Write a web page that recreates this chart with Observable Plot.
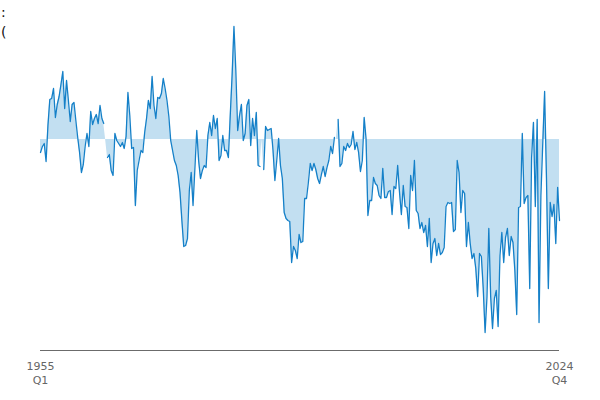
<!DOCTYPE html>
<html>
<head>
<meta charset="utf-8">
<script src="https://cdn.jsdelivr.net/npm/d3@7"></script>
<script src="https://cdn.jsdelivr.net/npm/@observablehq/plot@0.6"></script>
<style>
  body { margin: 0; background: #fff; font-family: "DejaVu Sans", sans-serif; }
  #wrap { position: relative; width: 600px; height: 400px; }
  #clip { position: absolute; left: 1px; top: 2px; font-size: 14px; line-height: 20px; color: #111; }
</style>
</head>
<body>
<div id="wrap">
  <div id="clip">:<br>(</div>
</div>
<script>
// Quarterly series, 1955 Q1 .. 2024 Q4 (null = missing quarter)
const startYear = 1955;
const values = [
  -13, -7, -4, -22, 14, 40, 41, 51, 22, 35,
  43, 55, 68, 31, 59, 39, 18, 35, 37, 19,
  2, -13, -33, -25, -7, 6, -7, 28, 15, 21,
  25, 16, 34, 21, 16, null, -18, -15, -31, -36,
  6, -1, -4, -7, -3, -9, 3, 47, 24, -9,
  -8, -66, -31, -21, -11, -13, 7, 21, 39, 31,
  63, 34, 21, 42, 41, 46, 61, 51, 39, 23,
  -1, -11, -21, -26, -36, -53, -81, -107, -106, -99,
  -51, -33, -66, -29, 9, -21, -39, -31, -26, -28,
  4, 17, 4, 24, 11, 21, -21, -16, 4, -11,
  -11, -18, 24, 64, 113, 69, 9, 24, 35, -1,
  6, 34, 40, -6, 21, 4, 27, -26, -27, null,
  -30, 13, 9, 10, 11, -11, -41, -21, 1, -26,
  -39, -73, -79, -81, -82, -123, -107, -111, -119, -95,
  -103, -102, -59, -59, -43, -24, -31, -24, -30, -39,
  -44, -35, -27, -37, -28, -21, -7, -14, 2, null,
  20, -27, -24, -7, -11, -4, -8, -5, 8, -10,
  -3, -13, -32, -21, 22, 1, -76, -61, -61, -38,
  -44, -46, -56, -59, -29, -58, -58, -52, -51, -75,
  -47, -49, -26, -53, -75, -46, -67, -68, -89, -36,
  -51, -21, -71, -74, -89, -83, -93, -86, -107, -79,
  -123, -104, -99, -116, -104, -115, -113, -108, -67, -63,
  -64, -63, -92, -90, -21, -33, -73, -51, -54, -107,
  -83, -104, -119, -114, -129, -157, -114, -117, -149, -193,
  -158, -89, -157, -189, -159, -151, -187, -116, -93, -123,
  -98, -89, -116, -97, -103, -131, -175, -68, -67, 6,
  -64, -58, -56, -149, -18, 17, -67, 20, -183, -56,
  -4, 48, -39, -149, -63, -77, -65, -104, -48, -81
];
const tickIndex = [0, values.length - 1];
const quarterNames = ["Q1", "Q2", "Q3", "Q4"];
const yDomain = [-211, 119];

const data = values.map((v, i) => ({
  i,
  v,
  label: `${startYear + Math.floor(i / 4)}\n${quarterNames[i % 4]}`
}));

const chart = Plot.plot({
  width: 600,
  height: 400,
  marginLeft: 40,
  marginRight: 41,
  marginTop: 20,
  marginBottom: 50,
  style: { fontFamily: "DejaVu Sans, sans-serif", fontSize: "11px", background: "transparent" },
  x: { type: "linear", domain: [0, values.length - 1], axis: null },
  y: { domain: yDomain, axis: null },
  marks: [
    Plot.areaY(data, { x: "i", y: "v", fill: "#c2dff1", curve: "linear" }),
    Plot.lineY(data, { x: "i", y: "v", stroke: "#1580c8", strokeWidth: 1.3, curve: "linear" }),
    Plot.ruleY([yDomain[0]], { stroke: "#6b6b6b", strokeWidth: 1 }),
    Plot.axisX({
      ticks: tickIndex,
      tickFormat: (i) => data[i].label,
      tickSize: 0,
      tickPadding: 10,
      lineHeight: 1.25,
      color: "#666",
      fontSize: 11,
      label: null
    })
  ]
});
chart.style.position = "absolute";
chart.style.left = "0";
chart.style.top = "0";
document.getElementById("wrap").prepend(chart);
</script>
</body>
</html>
